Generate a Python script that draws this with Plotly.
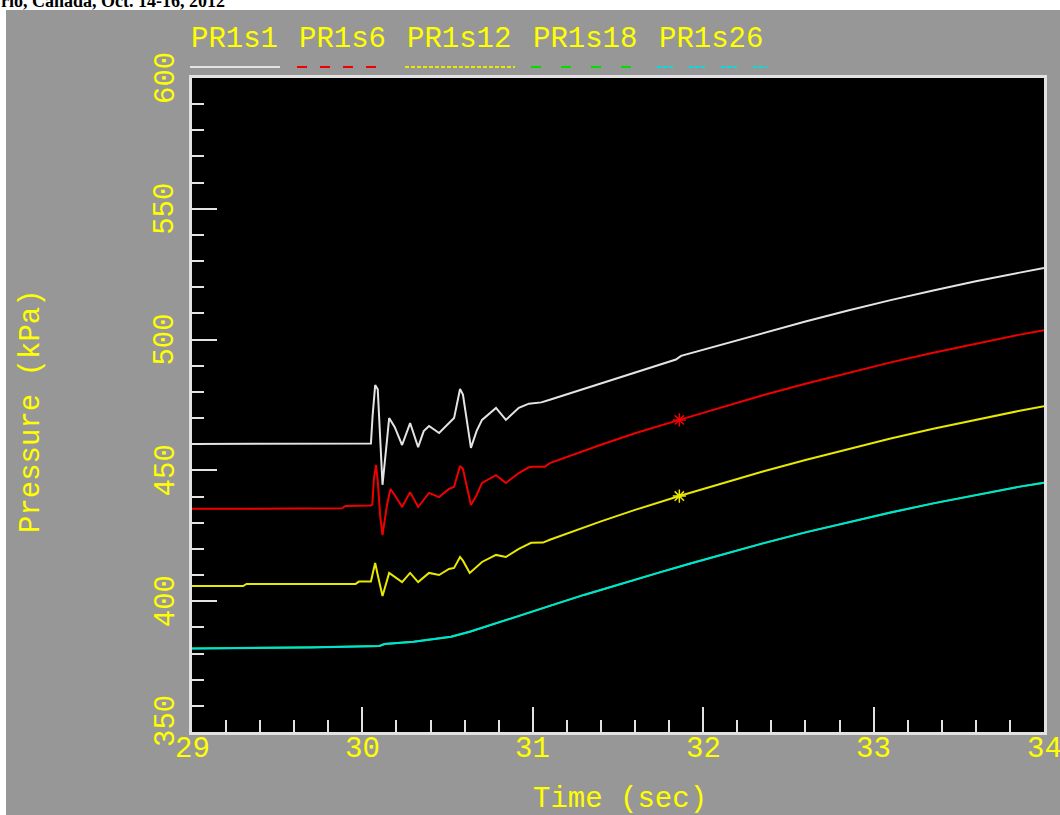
import plotly.graph_objects as go

# ---- data -------------------------------------------------------------
pr1s1_t = [29.0, 30.05, 30.06, 30.075, 30.09, 30.105, 30.118, 30.145, 30.157, 30.19,
           30.233, 30.28, 30.327, 30.36, 30.391, 30.45, 30.508, 30.538, 30.573, 30.59,
           30.637, 30.67, 30.702, 30.784, 30.842, 30.918, 30.977, 31.05, 31.1, 31.4,
           31.6, 31.84, 31.87, 32.1, 32.35, 32.6, 32.85, 33.1, 33.35, 33.6, 33.85, 34.0]
pr1s1_p = [460.1, 460.3, 471.0, 482.6, 481.0, 458.0, 444.5, 462.0, 470.0, 466.5,
           459.7, 468.1, 458.9, 465.0, 467.0, 464.3, 468.1, 470.0, 481.1, 479.0,
           458.6, 465.0, 469.3, 473.9, 469.3, 473.9, 475.5, 476.0, 477.0, 483.3,
           487.6, 492.4, 493.8, 497.9, 502.5, 506.9, 511.1, 515.1, 518.8, 522.3, 525.5, 527.4]

pr1s6_t = [29.0, 29.88, 29.9, 30.05, 30.058, 30.068, 30.08, 30.09, 30.105, 30.118,
           30.145, 30.165, 30.195, 30.233, 30.28, 30.327, 30.391, 30.45, 30.508, 30.538,
           30.573, 30.59, 30.637, 30.67, 30.702, 30.784, 30.842, 30.918, 30.977, 31.0,
           31.07, 31.1, 31.4, 31.6, 31.86, 32.1, 32.35, 32.6, 32.85, 33.1, 33.35, 33.6,
           33.85, 34.0]
pr1s6_p = [435.3, 435.5, 436.4, 436.6, 437.0, 447.0, 452.1, 446.0, 432.0, 425.3,
           437.0, 442.9, 440.0, 436.0, 441.7, 436.0, 441.4, 439.8, 442.9, 443.7,
           451.7, 450.5, 436.8, 440.5, 445.2, 448.2, 445.2, 449.0, 451.2, 451.4,
           451.4, 452.8, 459.8, 464.2, 469.3, 474.0, 478.7, 483.1, 487.3, 491.3, 495.0, 498.5,
           501.8, 503.6]

pr1s12_t = [29.0, 29.3, 29.32, 29.96, 29.98, 30.05, 30.062, 30.075, 30.09, 30.118,
            30.157, 30.2, 30.233, 30.28, 30.327, 30.391, 30.45, 30.508, 30.538, 30.573,
            30.59, 30.63, 30.702, 30.784, 30.842, 30.918, 30.99, 31.06, 31.1, 31.4,
            31.6, 31.86, 32.1, 32.35, 32.6, 32.85, 33.1, 33.35, 33.6, 33.85, 34.0]
pr1s12_p = [405.8, 405.8, 406.6, 406.6, 407.5, 407.5, 411.0, 414.6, 410.0, 402.0,
            410.8, 409.0, 407.3, 410.8, 407.3, 410.8, 410.0, 412.3, 412.7, 416.9,
            415.5, 410.8, 415.0, 417.7, 416.9, 420.0, 422.3, 422.4, 423.5, 430.5,
            434.9, 440.2, 444.9, 449.6, 454.0, 458.2, 462.2, 465.9, 469.4, 472.7, 474.5]

pr1s18_t = [29.0, 29.6, 29.7, 30.1, 30.13, 30.3, 30.4, 30.52, 30.63, 30.75,
            30.87, 30.99, 31.1, 31.3, 31.52, 31.75, 31.93, 32.1, 32.35, 32.6, 32.85,
            33.1, 33.35, 33.6, 33.85, 34.0]
pr1s18_p = [381.9, 382.2, 382.4, 382.9, 383.6, 384.5, 385.4, 386.4, 388.3, 390.9,
            393.4, 396.0, 398.2, 402.4, 406.8, 411.1, 414.5, 417.6, 422.1, 426.3, 430.2,
            433.9, 437.4, 440.6, 443.7, 445.3]

pr1s26_t = [29.0, 29.7, 30.1, 30.13, 30.3, 30.4, 30.52, 30.63, 30.75, 30.87,
            30.99, 31.1, 31.3, 31.52, 31.75, 31.93, 32.1, 32.35, 32.6, 32.85,
            33.1, 33.35, 33.6, 33.85, 34.0]
pr1s26_p = [381.9, 382.3, 382.9, 383.6, 384.5, 385.4, 386.4, 388.3, 390.9, 393.4,
            396.0, 398.2, 402.4, 406.8, 411.1, 414.5, 417.6, 422.1, 426.3, 430.2,
            433.9, 437.4, 440.6, 443.7, 445.3]

series_names = ["PR1s1", "PR1s6", "PR1s12", "PR1s18", "PR1s26"]
marker_time = 31.86          # '*' markers on PR1s6 and PR1s12

x_ticks = [29, 30, 31, 32, 33, 34]
x_tick_labels = ["29", "30", "31", "32", "33", "34"]
y_ticks = [350, 400, 450, 500, 550, 600]
y_tick_labels = ["350", "400", "450", "500", "550", "600"]

# ---- layout geometry (pixels) ---------------------------------------
W, H = 1060, 815
L, R, T, B = 192, 16, 78, 83
PW, PH = W - L - R, H - T - B


def px(x):
    return (x - L) / PW


def py(y):
    return (H - B - y) / PH


YELLOW = "#ffff00"
GRAY = "#979797"
TICK = "#e2e2e2"
MONO = "Liberation Mono, Courier New, monospace"

colors = {"PR1s1": "#e4e4e4", "PR1s6": "#f00000", "PR1s12": "#e8e800",
          "PR1s18": "#00e000", "PR1s26": "#00e0e0"}
data = {"PR1s1": (pr1s1_t, pr1s1_p), "PR1s6": (pr1s6_t, pr1s6_p),
        "PR1s12": (pr1s12_t, pr1s12_p), "PR1s18": (pr1s18_t, pr1s18_p),
        "PR1s26": (pr1s26_t, pr1s26_p)}

fig = go.Figure()
for name in series_names:
    t, p = data[name]
    fig.add_trace(go.Scatter(x=t, y=p, mode="lines", name=name,
                             line=dict(color=colors[name], width=2),
                             showlegend=False, hoverinfo="skip"))

for name in ["PR1s6", "PR1s12"]:
    t, p = data[name]
    i = t.index(marker_time)
    fig.add_trace(go.Scatter(x=[t[i]], y=[p[i]], mode="markers", showlegend=False,
                             hoverinfo="skip",
                             marker=dict(symbol="asterisk-open", size=11,
                                         color=colors[name],
                                         line=dict(color=colors[name], width=1.5))))

shapes = [
    # white strips around the gray panel
    dict(type="rect", xref="paper", yref="paper", x0=px(0), x1=px(W),
         y0=py(10), y1=py(0), fillcolor="white", line_width=0, layer="below"),
    dict(type="rect", xref="paper", yref="paper", x0=px(0), x1=px(6),
         y0=py(H), y1=py(0), fillcolor="white", line_width=0, layer="below"),
]

# legend: label above a line sample in each series' style
legend_x = {"PR1s1": (189, 190, 280), "PR1s6": (297, 297, 381),
            "PR1s12": (405, 405, 515), "PR1s18": (531, 531, 631),
            "PR1s26": (657, 657, 767)}
legend_dash = {"PR1s1": "solid", "PR1s6": "10px,13px", "PR1s12": "4px,2px",
               "PR1s18": "10px,20px", "PR1s26": "4px,2px,4px,2px,4px,16px"}
annotations = []
for name in series_names:
    tx, lx0, lx1 = legend_x[name]
    annotations.append(dict(text=name, xref="paper", yref="paper", x=px(tx), y=py(40),
                            xanchor="left", yanchor="middle", showarrow=False,
                            font=dict(family=MONO, size=29, color=YELLOW)))
    shapes.append(dict(type="line", xref="paper", yref="paper", x0=px(lx0), x1=px(lx1),
                       y0=py(67), y1=py(67),
                       line=dict(color=colors[name], width=2, dash=legend_dash[name])))

# tick labels
for v, lab in zip(x_ticks, x_tick_labels):
    annotations.append(dict(text=lab, xref="x", yref="paper", x=v, y=0, yshift=-17,
                            xanchor="center", yanchor="middle", showarrow=False,
                            font=dict(family=MONO, size=29, color=YELLOW)))
for v, lab in zip(y_ticks, y_tick_labels):
    annotations.append(dict(text=lab, xref="paper", yref="y", x=0, y=v, xshift=-26,
                            yshift=11 if v == y_ticks[0] else 0,
                            xanchor="center", yanchor="middle", textangle=-90,
                            showarrow=False,
                            font=dict(family=MONO, size=29, color=YELLOW)))

annotations += [
    dict(text="Pressure (kPa)", xref="paper", yref="paper", x=0, xshift=-160,
         y=py(411), xanchor="center", yanchor="middle", textangle=-90, showarrow=False,
         font=dict(family=MONO, size=29, color=YELLOW)),
    dict(text="Time (sec)", xref="paper", yref="paper", x=px(620), y=py(799),
         xanchor="center", yanchor="middle", showarrow=False,
         font=dict(family=MONO, size=29, color=YELLOW)),
    dict(text="<b>rio, Canada, Oct. 14-16, 2012</b>", xref="paper", yref="paper",
         x=px(-1), y=py(13), xanchor="left", yanchor="bottom", showarrow=False,
         font=dict(family="Liberation Serif, Times New Roman, serif", size=18,
                   color="black")),
]

axis_common = dict(showgrid=False, zeroline=False, showline=True, mirror=True,
                   linecolor=TICK, linewidth=3, ticks="inside", ticklen=25,
                   tickwidth=2, tickcolor=TICK, showticklabels=False)

fig.update_layout(
    width=W, height=H,
    margin=dict(l=L, r=R, t=T, b=B, pad=0),
    paper_bgcolor=GRAY, plot_bgcolor="black",
    xaxis=dict(range=[29, 34], tickvals=x_ticks,
               minor=dict(dtick=0.2, tick0=29, ticks="inside", ticklen=12,
                          tickwidth=2, tickcolor=TICK, showgrid=False),
               **axis_common),
    yaxis=dict(range=[350, 600], tickvals=y_ticks,
               minor=dict(dtick=10, tick0=350, ticks="inside", ticklen=12,
                          tickwidth=2, tickcolor=TICK, showgrid=False),
               **axis_common),
    shapes=shapes,
    annotations=annotations,
    showlegend=False,
)

fig.write_html("out.html")
